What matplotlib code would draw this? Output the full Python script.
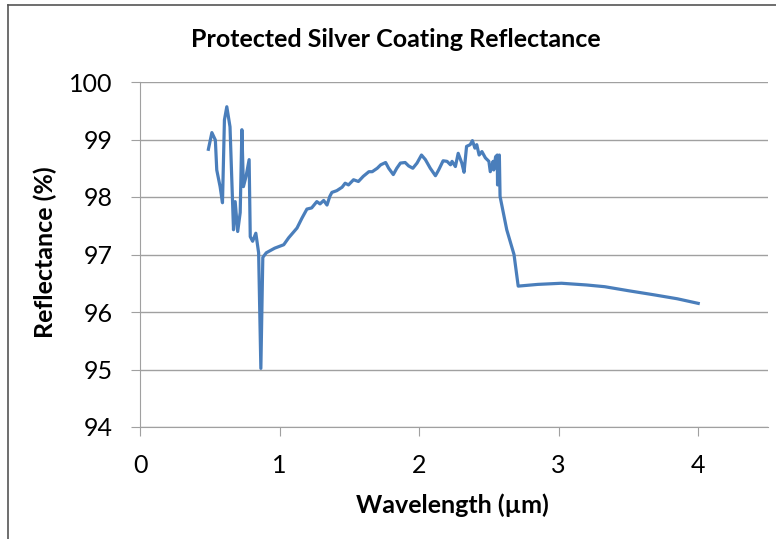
"""
Protected silver coating reflectance curve
"""
import matplotlib.pyplot as plt

# wavelength in micrometres, reflectance in percent
wavelength = [0.49, 0.515, 0.54, 0.55, 0.574, 0.591, 0.605, 0.622, 0.645, 0.67,
              0.682, 0.70, 0.718, 0.73, 0.741, 0.76, 0.782, 0.79, 0.807, 0.83,
              0.85, 0.866, 0.88, 0.905, 0.965, 1.03, 1.065, 1.125, 1.16, 1.196,
              1.23, 1.267, 1.29, 1.316, 1.34, 1.36, 1.375, 1.41, 1.448, 1.47,
              1.494, 1.53, 1.565, 1.60, 1.64, 1.664, 1.70, 1.725, 1.76, 1.782,
              1.815, 1.84, 1.866, 1.90, 1.925, 1.955, 1.985, 2.017, 2.045, 2.08,
              2.117, 2.14, 2.172, 2.20, 2.225, 2.236, 2.26, 2.28, 2.306, 2.322,
              2.34, 2.366, 2.382, 2.40, 2.413, 2.43, 2.45, 2.475, 2.50, 2.51,
              2.53, 2.535, 2.548, 2.56, 2.562, 2.575, 2.58, 2.628, 2.68, 2.71,
              2.85, 3.02, 3.2, 3.33, 3.5, 3.68, 3.85, 4.0]
reflectance = [98.83, 99.12, 98.99, 98.47, 98.18, 97.90, 99.34, 99.57, 99.22, 97.43,
               97.92, 97.40, 97.73, 99.17, 98.18, 98.36, 98.65, 97.31, 97.23, 97.37,
               97.03, 95.02, 96.95, 97.03, 97.11, 97.17, 97.29, 97.46, 97.63, 97.79,
               97.81, 97.92, 97.88, 97.94, 97.86, 98.01, 98.08, 98.11, 98.17, 98.24,
               98.21, 98.30, 98.27, 98.36, 98.44, 98.44, 98.50, 98.56, 98.60, 98.50,
               98.39, 98.50, 98.59, 98.60, 98.54, 98.50, 98.59, 98.73, 98.65, 98.50,
               98.37, 98.47, 98.63, 98.62, 98.56, 98.62, 98.53, 98.76, 98.59, 98.43,
               98.88, 98.91, 98.98, 98.85, 98.91, 98.73, 98.79, 98.68, 98.62, 98.44,
               98.62, 98.47, 98.70, 98.73, 98.21, 98.73, 98.01, 97.43, 97.00, 96.45,
               96.48, 96.50, 96.47, 96.44, 96.37, 96.30, 96.23, 96.15]

x_ticks = [0, 1, 2, 3, 4]
y_ticks = [94, 95, 96, 97, 98, 99, 100]

plt.rcParams['font.family'] = ['Lato', 'DejaVu Sans']

W, H = 776, 539
fig = plt.figure(figsize=(W / 100, H / 100), dpi=100)
ax = fig.add_axes([140 / W, 1 - 427 / H, 628 / W, 345 / H])

# chart border (only left and top edges show in the reference)
fig.add_artist(plt.Line2D([8 / W, 8 / W], [0, 1 - 5 / H], color='#555555', lw=1.2))
fig.add_artist(plt.Line2D([8 / W, 1], [1 - 5 / H, 1 - 5 / H], color='#555555', lw=1.2))

ax.plot(wavelength, reflectance, color='#4a7ebb', linewidth=2.3)

ax.set_xlim(0, 4.5)
ax.set_ylim(94, 100)
ax.set_xticks(x_ticks)
ax.set_yticks(y_ticks)
ax.grid(True, axis='y', color='#a0a0a0', linewidth=1)
ax.set_axisbelow(True)

for side in ['top', 'right']:
    ax.spines[side].set_visible(False)
ax.spines['left'].set_color('#a0a0a0')
ax.spines['bottom'].set_color('#a0a0a0')
ax.tick_params(axis='both', colors='#a0a0a0', length=6.5, pad=13,
               labelsize=18, labelcolor='black')

# titles placed in figure pixels, like the reference
fig.text(396 / W, 1 - 47 / H, 'Protected Silver Coating Reflectance',
         ha='center', va='baseline', fontsize=18, fontweight='bold')
fig.text(452 / W, 1 - 505 / H, 'Wavelength (µm)',
         ha='center', va='center', fontsize=18, fontweight='bold')
fig.text(45 / W, 1 - 252 / H, 'Reflectance (%)', rotation=90,
         ha='center', va='center', fontsize=18, fontweight='bold')

plt.savefig('out.png', dpi=100)
